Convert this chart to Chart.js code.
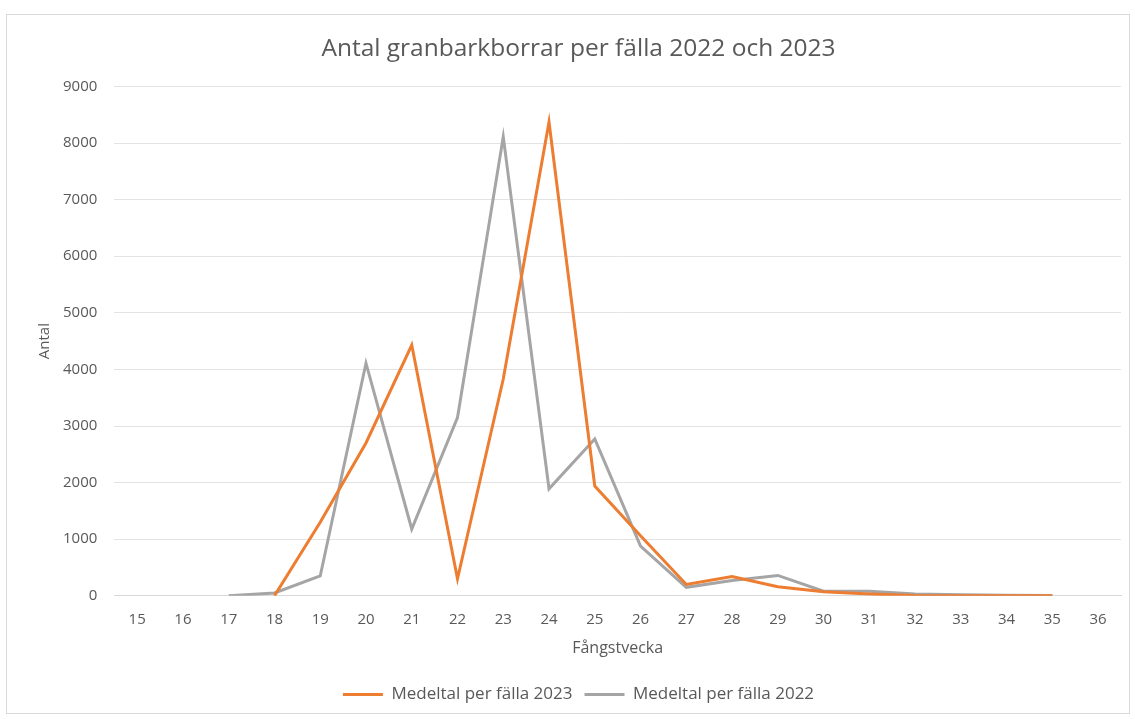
<!DOCTYPE html>
<html>
<head>
<meta charset="utf-8">
<script src="https://cdn.jsdelivr.net/npm/chart.js@4.4.1/dist/chart.umd.min.js"></script>
<style>
  html, body { margin: 0; padding: 0; background: #ffffff; }
  #wrap { position: absolute; left: 6px; top: 14px; width: 1124px; height: 700px; border: 1px solid #d9d9d9; box-sizing: border-box; }
  canvas { display: block; }
</style>
</head>
<body>
<div id="wrap"><canvas id="c"></canvas></div>
<script>
const weeks = ["15","16","17","18","19","20","21","22","23","24","25","26","27","28","29","30","31","32","33","34","35","36"];
const mean2023 = [null, null, null, 0, 1300, 2700, 4430, 300, 3830, 8370, 1940, 1060, 200, 340, 160, 70, 30, 5, 0, 0, 0, null];
const mean2022 = [null, null, 0, 50, 350, 4110, 1180, 3150, 8110, 1890, 2770, 880, 150, 270, 360, 80, 80, 30, 20, 10, 5, null];
const yTicks = [0, 1000, 2000, 3000, 4000, 5000, 6000, 7000, 8000, 9000];
const seriesNames = ["Medeltal per fälla 2023", "Medeltal per fälla 2022"];

const textColor = '#595959';
const fontFamily = '"Open Sans", "Noto Sans", sans-serif';

new Chart(document.getElementById('c'), {
  type: 'line',
  data: {
    labels: weeks,
    datasets: [
      { label: seriesNames[0], data: mean2023, borderColor: '#ED7D31', backgroundColor: '#ED7D31', borderWidth: 3, pointRadius: 0, tension: 0, spanGaps: false },
      { label: seriesNames[1], data: mean2022, borderColor: '#A5A5A5', backgroundColor: '#A5A5A5', borderWidth: 3, pointRadius: 0, tension: 0, spanGaps: false }
    ]
  },
  options: {
    responsive: true,
    maintainAspectRatio: false,
    animation: false,
    layout: { padding: { left: 29, right: 8, top: 0, bottom: 0 } },
    plugins: {
      title: {
        display: true,
        text: 'Antal granbarkborrar per fälla 2022 och 2023',
        color: textColor,
        font: { family: fontFamily, size: 24.5, weight: 'normal' },
        padding: { top: 19, bottom: 23 }
      },
      legend: {
        position: 'bottom',
        labels: {
          color: textColor,
          font: { family: fontFamily, size: 17 },
          boxWidth: 40,
          boxHeight: 3,
          padding: 12,
          generateLabels(chart) {
            return chart.data.datasets.map((ds, i) => ({
              text: ds.label,
              fillStyle: ds.borderColor,
              strokeStyle: ds.borderColor,
              lineWidth: 0,
              hidden: false,
              datasetIndex: i,
              fontColor: textColor
            }));
          }
        }
      },
      tooltip: { enabled: false }
    },
    scales: {
      x: {
        offset: true,
        grid: { display: false, drawTicks: false },
        border: { display: true, color: '#d9d9d9' },
        ticks: { color: textColor, font: { family: fontFamily, size: 15 }, padding: 15, maxRotation: 0, autoSkip: false },
        title: { display: true, text: 'Fångstvecka', color: textColor, font: { family: fontFamily, size: 16 }, padding: { top: -5, bottom: 16 } }
      },
      y: {
        min: 0, max: 9000,
        afterBuildTicks(axis) { axis.ticks = yTicks.map(v => ({ value: v })); },
        grid: { color: '#e3e3e3', lineWidth: 1, drawTicks: false },
        border: { display: false },
        ticks: { color: textColor, font: { family: fontFamily, size: 15 }, padding: 17, callback: v => String(v) },
        title: { display: true, text: 'Antal', color: textColor, font: { family: fontFamily, size: 15 }, padding: { top: 0, bottom: -8 } }
      }
    }
  }
});
</script>
</body>
</html>
